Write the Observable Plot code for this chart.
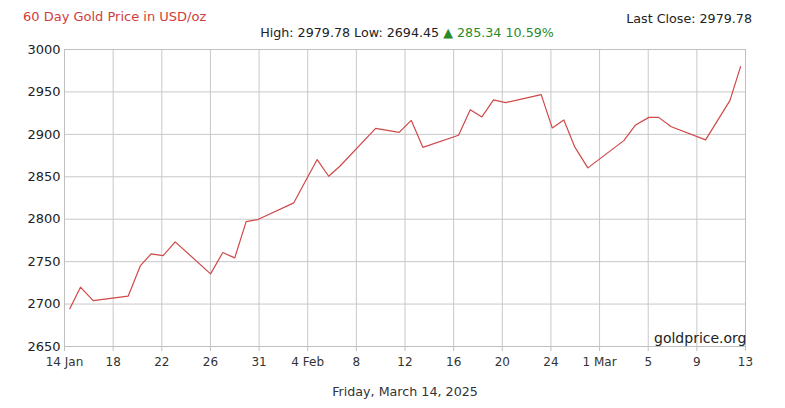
<!DOCTYPE html>
<html>
<head>
<meta charset="utf-8">
<script src="https://cdn.jsdelivr.net/npm/d3@7"></script>
<script src="https://cdn.jsdelivr.net/npm/@observablehq/plot@0.6"></script>
<style>
  html, body { margin: 0; padding: 0; background: #fff; }
  #wrap { position: relative; width: 785px; height: 408px; font-family: "DejaVu Sans", Verdana, sans-serif; }
  .t { position: absolute; white-space: nowrap; line-height: 1; }
  #title { left: 23px; top: 10px; font-size: 13px; color: #d23c3c; }
  #stats { left: 407px; top: 27px; transform: translateX(-50%); font-size: 12.7px; color: #222; }
  #stats .up { color: #2a8a2a; }
  #last { right: 33px; top: 13px; font-size: 12.7px; color: #222; }
  #foot { left: 405px; top: 386px; transform: translateX(-50%); font-size: 12.7px; color: #333; }
  #chart { position: absolute; left: 0; top: 0; }
</style>
</head>
<body>
<div id="wrap">
  <div id="chart"></div>
  <div class="t" id="title">60 Day Gold Price in USD/oz</div>
  <div class="t" id="stats">High: 2979.78 Low: 2694.45 <span class="up">▲ 285.34 10.59%</span></div>
  <div class="t" id="last">Last Close: 2979.78</div>
  <div class="t" id="foot">Friday, March 14, 2025</div>
</div>
<script>
// days since 14 Jan 2025
const days = [0.45, 1.36, 2.44, 5.42, 6.47, 7.38, 8.40, 9.43, 12.44, 13.48, 14.50, 15.47, 16.47,
  19.53, 21.52, 22.50, 23.45, 26.50, 28.50, 29.53, 30.52, 33.56, 34.56, 35.55, 36.54, 37.56,
  40.60, 41.54, 42.53, 43.44, 44.57, 47.64, 48.64, 49.77, 50.60, 51.68, 54.60, 56.67, 57.58];
const prices = [2694.45, 2719.9, 2704.0, 2709.3, 2745.4, 2759.2, 2757.2, 2773.3, 2735.6, 2760.7, 2754.4, 2797.2, 2799.6,
  2819.3, 2870.3, 2850.6, 2862.4, 2907.1, 2902.4, 2916.5, 2884.7, 2898.9, 2929.1, 2920.5, 2940.6, 2937.4,
  2946.8, 2907.6, 2917.0, 2885.6, 2860.5, 2892.6, 2911.1, 2920.0, 2920.0, 2909.0, 2893.5, 2939.7, 2979.78];
const tickLabels = ["14 Jan", "18", "22", "26", "31", "4 Feb", "8", "12", "16", "20", "24", "1 Mar", "5", "9", "13"];
const yTicks = [2650, 2700, 2750, 2800, 2850, 2900, 2950, 3000];
const spanDays = 58;

const xTicks = tickLabels.map((_, i) => i * spanDays / (tickLabels.length - 1));
const data = days.map((d, i) => ({day: d, price: prices[i]}));

const chart = Plot.plot({
  width: 785,
  height: 408,
  marginLeft: 64,
  marginRight: 40,
  marginTop: 49,
  marginBottom: 62,
  style: {fontFamily: "DejaVu Sans, Verdana, sans-serif", color: "#222", background: "#fff"},
  x: {domain: [0, spanDays]},
  y: {domain: [2650, 3000]},
  marks: [
    Plot.gridX(xTicks, {stroke: "#c8c8c8", strokeOpacity: 1}),
    Plot.gridY(yTicks, {stroke: "#c8c8c8", strokeOpacity: 1}),
    Plot.frame({stroke: "#c0c0c0"}),
    Plot.axisX(xTicks, {
      tickFormat: (d, i) => tickLabels[i],
      tickSize: 5, tickPadding: 6, stroke: "#c0c0c0", fontSize: 12, fill: "#333", label: null
    }),
    Plot.axisY(yTicks, {tickSize: 0, tickPadding: 4, fontSize: 13, fill: "#222", label: null, tickFormat: d => String(d)}),
    Plot.text(["goldprice.org"], {frameAnchor: "bottom-right", dx: 1, dy: -4, fontSize: 14, fill: "#222", textAnchor: "end"}),
    Plot.line(data, {x: "day", y: "price", stroke: "#d04848", strokeWidth: 1.2})
  ]
});
document.getElementById("chart").appendChild(chart);
</script>
</body>
</html>
